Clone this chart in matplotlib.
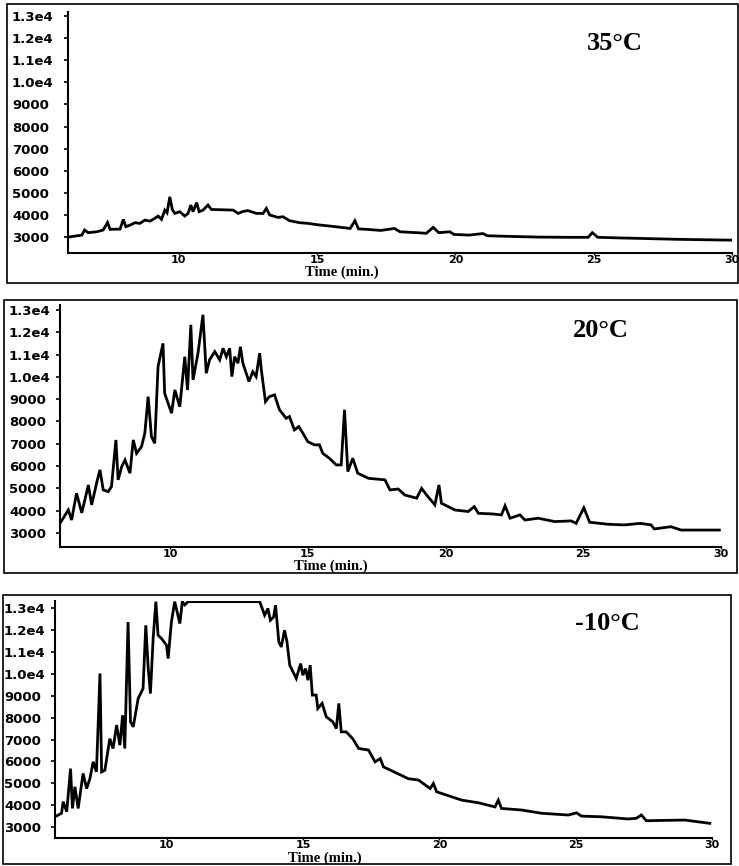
import matplotlib
matplotlib.use('Agg')
import matplotlib.pyplot as plt
from matplotlib.patches import Rectangle

# ---- data ----
t_35 = [6.0, 6.07, 6.5, 6.6, 6.73, 7.04, 7.27, 7.43, 7.52, 7.88, 8.0, 8.09, 8.24, 8.42, 8.6,
        8.78, 8.96, 9.14, 9.26, 9.38, 9.5, 9.58, 9.68, 9.77, 9.86, 10.04, 10.22, 10.34, 10.44,
        10.52, 10.65, 10.74, 10.88, 11.06, 11.18, 11.97, 12.15, 12.3, 12.5, 12.81, 13.05, 13.17,
        13.29, 13.59, 13.77, 14.01, 14.38, 14.68, 15.0, 15.6, 16.2, 16.37, 16.5, 16.8, 17.3,
        17.8, 18.0, 18.6, 18.95, 19.2, 19.4, 19.8, 19.95, 20.5, 21.0, 21.15, 22.0, 23.0, 24.0,
        24.8, 24.95, 25.15, 26.0, 27.0, 28.0, 29.0, 30.0]
v_35 = [3000, 3010, 3090, 3320, 3200, 3240, 3320, 3660, 3350, 3360, 3800, 3470, 3540, 3650, 3620,
        3770, 3720, 3850, 3950, 3800, 4220, 4100, 4820, 4250, 4070, 4150, 3950, 4070, 4450,
        4150, 4560, 4150, 4220, 4450, 4250, 4220, 4070, 4150, 4200, 4070, 4070, 4300,
        4000, 3890, 3920, 3740, 3650, 3620, 3560, 3480, 3390, 3740, 3370, 3350, 3300,
        3390, 3240, 3200, 3170, 3440, 3200, 3240, 3120, 3090, 3160, 3060, 3030, 3000, 2990,
        2990, 3200, 2990, 2960, 2930, 2900, 2880, 2860]

t_20 = [6.0, 6.3, 6.42, 6.6, 6.79, 7.03, 7.15, 7.33, 7.45, 7.57, 7.75, 7.87, 8.03, 8.11, 8.24,
        8.36, 8.54, 8.66, 8.78, 8.96, 9.08, 9.2, 9.32, 9.44, 9.56, 9.74, 9.8, 10.05, 10.17, 10.35,
        10.53, 10.63, 10.75, 10.83, 11.01, 11.19, 11.31, 11.43, 11.62, 11.8, 11.92, 12.04, 12.16,
        12.24, 12.34, 12.46, 12.55, 12.64, 12.86, 13.0, 13.12, 13.25, 13.31, 13.46, 13.6, 13.79,
        13.97, 14.21, 14.33, 14.51, 14.67, 14.82, 15.0, 15.24, 15.42, 15.54, 15.78, 16.03, 16.21,
        16.33, 16.45, 16.63, 16.81, 17.2, 17.8, 17.98, 18.28, 18.52, 18.95, 19.13, 19.31, 19.61,
        19.76, 19.85, 20.34, 20.82, 21.04, 21.19, 21.73, 22.03, 22.16, 22.34, 22.7, 22.88, 23.36,
        23.96, 24.56, 24.74, 25.02, 25.23, 25.89, 26.5, 27.07, 27.46, 27.58, 28.18, 28.55, 29.94]
v_20 = [3430, 4030, 3580, 4780, 3900, 5150, 4260, 5240, 5830, 4930, 4850, 5080, 7170, 5380, 5970,
        6270, 5680, 7170, 6570, 6870, 7470, 9110, 7320, 7020, 10460, 11500, 9260, 8370, 9410, 8660,
        10900, 9410, 12330, 9860, 11060, 12780, 10160, 10760, 11130, 10760, 11280, 10900, 11280,
        10010, 10900, 10610, 11350, 10610, 9790, 10230, 10010, 11060, 10310, 8890, 9110, 9190,
        8520, 8140, 8220, 7620, 7770, 7470, 7090, 6950, 6950, 6570, 6350, 6050, 6050,
        8520, 5750, 6350, 5680, 5450, 5380, 4930, 4970, 4700, 4560, 5000, 4700, 4260,
        5150, 4330, 4030, 3960, 4180, 3880, 3850, 3810, 4220, 3660, 3810, 3580, 3660,
        3510, 3540, 3430, 4130, 3480, 3390, 3360, 3430, 3360, 3180, 3280, 3130, 3130]

t_m10 = [5.9, 6.14, 6.2, 6.33, 6.47, 6.54, 6.63, 6.75, 6.93, 7.06, 7.18, 7.3, 7.42, 7.55, 7.61,
         7.73, 7.91, 8.03, 8.16, 8.28, 8.38, 8.46, 8.58, 8.67, 8.77, 8.95, 9.13, 9.23, 9.32, 9.4,
         9.5, 9.6, 9.68, 9.81, 9.99, 10.05, 10.17, 10.29, 10.41, 10.48, 10.57, 10.66, 10.78, 13.41,
         13.59, 13.71, 13.8, 13.92, 13.99, 14.11, 14.2, 14.32, 14.41, 14.51, 14.75, 14.91, 14.99,
         15.09, 15.18, 15.26, 15.34, 15.48, 15.54, 15.7, 15.85, 16.09, 16.22, 16.31, 16.4, 16.58,
         16.82, 17.04, 17.4, 17.64, 17.83, 17.95, 18.86, 19.23, 19.66, 19.78, 19.9, 20.82, 21.43,
         22.04, 22.16, 22.28, 23.01, 23.75, 24.73, 25.03, 25.21, 25.94, 26.92, 27.22, 27.41, 27.59,
         29.0, 29.92]
v_m10 = [3470, 3630, 4160, 3700, 5670, 3850, 4840, 3850, 5450, 4760, 5210, 5980, 5520, 10020, 5520,
         5600, 7040, 6590, 7660, 6740, 8110, 6590, 12370, 7810, 7580, 8870, 9330, 12220, 10240, 9100,
         11610, 13300, 11770, 11610, 11310, 10700, 12370, 13300, 12680, 12300, 13300, 13150, 13300, 13300,
         12680, 12990, 12450, 12600, 13140, 11460, 11230, 11990, 11460, 10400, 9790, 10470, 9940,
         10240, 9710, 10400, 9030, 9030, 8420, 8650, 8040, 7810, 7500, 8650, 7350, 7350,
         7040, 6590, 6520, 5980, 6130, 5750, 5210, 5150, 4760, 4990, 4610, 4230, 4110,
         3920, 4230, 3850, 3780, 3630, 3550, 3650, 3500, 3470, 3370, 3400, 3550, 3290,
         3320, 3170]

labels = ['35°C', '20°C', '-10°C']
y_ticks = [3000, 4000, 5000, 6000, 7000, 8000, 9000, 10000, 11000, 12000, 13000]
y_tick_labels = ['3000', '4000', '5000', '6000', '7000', '8000', '9000',
                 '1.0e4', '1.1e4', '1.2e4', '1.3e4']
x_ticks = [10, 15, 20, 25, 30]

W, H = 739, 866


def fig_box(left, top, right, bottom):
    return [left / W, 1 - bottom / H, (right - left) / W, (bottom - top) / H]


# axes box (px), outer frame (px), xlim, ylim, x-label centre, temperature centre, ytick label left edge
panels = [
    dict(t=t_35, v=v_35, ax=(68, 11.6, 732, 253), frame=(7, 4, 738, 283),
         xlim=(6, 30), ylim=(2280, 13200), xlab=(342, 272), temp=(615, 43), lab=12),
    dict(t=t_20, v=v_20, ax=(60, 305, 721, 547), frame=(4, 300, 737, 573),
         xlim=(6, 30), ylim=(2370, 13220), xlab=(331, 566), temp=(601, 330), lab=9),
    dict(t=t_m10, v=v_m10, ax=(55, 601, 712, 838), frame=(3, 595, 731, 864),
         xlim=(5.9, 30), ylim=(2500, 13330), xlab=(325, 858), temp=(607, 624), lab=4),
]

fig = plt.figure(figsize=(W / 100, H / 100), dpi=100)

for p, name in zip(panels, labels):
    fig.patches.append(Rectangle((p['frame'][0] / W, 1 - p['frame'][3] / H),
                                 (p['frame'][2] - p['frame'][0]) / W,
                                 (p['frame'][3] - p['frame'][1]) / H,
                                 transform=fig.transFigure, fill=False,
                                 edgecolor='black', linewidth=1.2))
    ax = fig.add_axes(fig_box(*p['ax']))
    ax.plot(p['t'], p['v'], color='black', linewidth=2.0, solid_joinstyle='miter')
    ax.set_xlim(*p['xlim'])
    ax.set_ylim(*p['ylim'])
    for s in ['top', 'right']:
        ax.spines[s].set_visible(False)
    for s in ['left', 'bottom']:
        ax.spines[s].set_linewidth(1.5)
    ax.set_facecolor('none')

    ax.set_xticks(x_ticks)
    ax.set_xticklabels([str(x) for x in x_ticks], fontsize=8, fontweight='bold')
    ax.set_yticks(y_ticks)
    ax.set_yticklabels(y_tick_labels, fontsize=9.5, fontweight='bold')

    # labels sit left-aligned near the frame edge
    tick_len = 3
    pad_px = p['ax'][0] - p['lab'] - tick_len * 1.389
    ax.tick_params(axis='y', direction='out', length=tick_len, width=1.2, pad=pad_px / 1.389)
    for lbl in ax.get_yticklabels():
        lbl.set_horizontalalignment('left')
    ax.tick_params(axis='x', direction='out', length=1.4, width=1.0, pad=0)

    ax_w = p['ax'][2] - p['ax'][0]
    ax_h = p['ax'][3] - p['ax'][1]
    ax.text((p['xlab'][0] - p['ax'][0]) / ax_w, (p['ax'][3] - p['xlab'][1]) / ax_h,
            'Time (min.)', transform=ax.transAxes, ha='center', va='center',
            fontsize=10.5, fontweight='bold', family='Liberation Serif')
    ax.text((p['temp'][0] - p['ax'][0]) / ax_w, (p['ax'][3] - p['temp'][1]) / ax_h,
            name, transform=ax.transAxes, ha='center', va='center',
            fontsize=19, fontweight='bold', family='Liberation Serif')

fig.savefig('out.png', dpi=100)
